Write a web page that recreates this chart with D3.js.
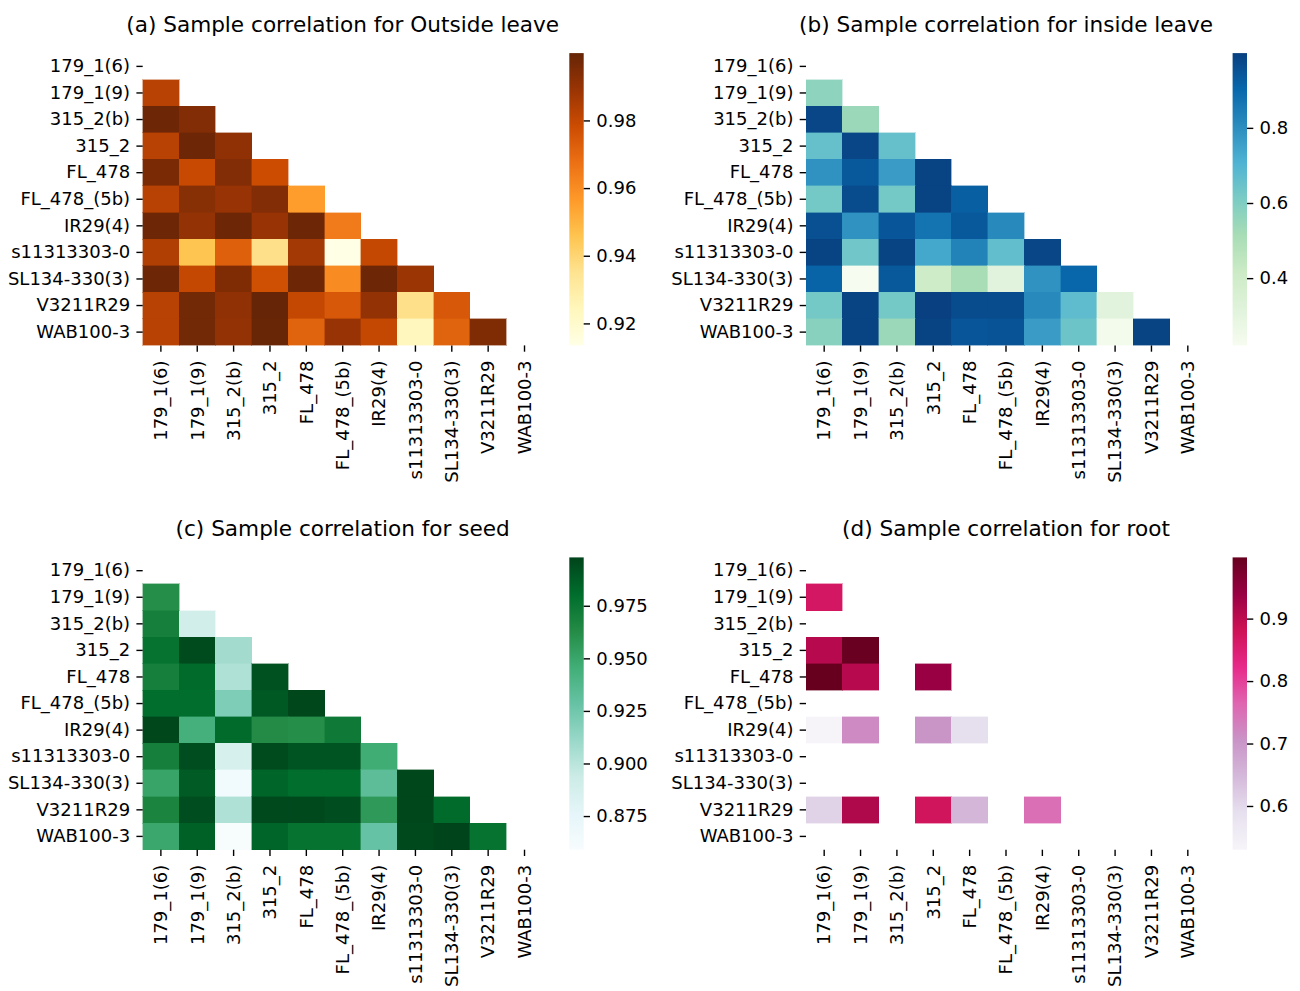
<!DOCTYPE html>
<html>
<head>
<meta charset="utf-8">
<script src="https://cdn.jsdelivr.net/npm/d3@7"></script>
<style>
  html, body { margin: 0; padding: 0; background: #ffffff; }
  svg { display: block; }
  text { font-family: "DejaVu Sans", sans-serif; fill: #000; }
</style>
</head>
<body>
<svg id="chart" width="1300" height="991"></svg>
<script>
// Sample names shared by all four correlation matrices
const samples = ["179_1(6)", "179_1(9)", "315_2(b)", "315_2", "FL_478", "FL_478_(5b)",
                 "IR29(4)", "s11313303-0", "SL134-330(3)", "V3211R29", "WAB100-3"];

// Lower-triangle correlations (row i holds columns 0..i-1); null = no value
const outsideLeave = [
  [],
  [0.9826],
  [0.9982, 0.9939],
  [0.9826, 0.9982, 0.9913],
  [0.9956, 0.9792, 0.9939, 0.9783],
  [0.9826, 0.9930, 0.9895, 0.9939, 0.9558],
  [0.9982, 0.9904, 0.9982, 0.9895, 0.9982, 0.9645],
  [0.9843, 0.9455, 0.9723, 0.9360, 0.9869, 0.9135, 0.9800],
  [0.9982, 0.9800, 0.9947, 0.9774, 0.9982, 0.9602, 0.9982, 0.9887],
  [0.9826, 0.9973, 0.9913, 0.9999, 0.9800, 0.9748, 0.9904, 0.9360, 0.9748],
  [0.9826, 0.9973, 0.9904, 0.9995, 0.9714, 0.9895, 0.9800, 0.9239, 0.9714, 0.9947]
];

const insideLeave = [
  [],
  [0.572],
  [0.984, 0.540],
  [0.657, 0.984, 0.657],
  [0.790, 0.938, 0.766, 0.992],
  [0.626, 0.969, 0.626, 0.992, 0.922],
  [0.961, 0.790, 0.945, 0.868, 0.938, 0.813],
  [0.992, 0.634, 0.992, 0.735, 0.829, 0.665, 0.984],
  [0.914, 0.221, 0.938, 0.408, 0.513, 0.314, 0.790, 0.903],
  [0.626, 0.992, 0.626, 0.999, 0.969, 0.969, 0.813, 0.673, 0.314],
  [0.579, 0.992, 0.540, 0.992, 0.945, 0.953, 0.766, 0.642, 0.237, 0.992]
];

const seed = [
  [],
  [0.9619],
  [0.9702, 0.8896],
  [0.9772, 0.9952, 0.9077],
  [0.9702, 0.9813, 0.9035, 0.9924],
  [0.9799, 0.9799, 0.9202, 0.9897, 0.9966],
  [0.9966, 0.9438, 0.9813, 0.9633, 0.9619, 0.9730],
  [0.9702, 0.9938, 0.8868, 0.9952, 0.9911, 0.9911, 0.9466],
  [0.9507, 0.9883, 0.8646, 0.9841, 0.9799, 0.9799, 0.9327, 0.9966],
  [0.9674, 0.9938, 0.9035, 0.9959, 0.9959, 0.9938, 0.9563, 0.9966, 0.9813],
  [0.9494, 0.9855, 0.8590, 0.9841, 0.9772, 0.9772, 0.9285, 0.9959, 0.9980, 0.9772]
];

const root = [
  [],
  [0.868],
  [null, null],
  [0.906, 0.995, null],
  [0.998, 0.906, null, 0.939],
  [null, null, null, null, null],
  [0.530, 0.718, null, 0.704, 0.591, null],
  [null, null, null, null, null, null, null],
  [null, null, null, null, null, null, null, null],
  [0.610, 0.915, null, 0.873, 0.652, null, 0.751, null, null],
  [null, null, null, null, null, null, null, null, null, null]
];

// Panel titles and colour-bar tick values
const titles = [
  "(a) Sample correlation for Outside leave",
  "(b) Sample correlation for inside leave",
  "(c) Sample correlation for seed",
  "(d) Sample correlation for root"
];
const outsideTicks = [0.92, 0.94, 0.96, 0.98];
const insideTicks = [0.4, 0.6, 0.8];
const seedTicks = [0.875, 0.900, 0.925, 0.950, 0.975];
const rootTicks = [0.6, 0.7, 0.8, 0.9];

// Layout
const W = 400, H = 292.3;
const TICK = 6.3, PAD = 6.3;
const CB_OFFSET = 426.6, CB_WIDTH = 14.4;

const panels = [
  { title: titles[0], data: outsideLeave, scheme: d3.schemeYlOrBr[9], ticks: outsideTicks, fmt: ".2f", x: 142.7, y: 53.1 },
  { title: titles[1], data: insideLeave, scheme: d3.schemeGnBu[9], ticks: insideTicks, fmt: ".1f", x: 806, y: 53.1 },
  { title: titles[2], data: seed, scheme: d3.schemeBuGn[9], ticks: seedTicks, fmt: ".3f", x: 142.7, y: 557.4 },
  { title: titles[3], data: root, scheme: d3.schemePuRd[9], ticks: rootTicks, fmt: ".1f", x: 806, y: 557.4 }
];

const svg = d3.select("#chart");
svg.append("rect").attr("width", 1300).attr("height", 991).attr("fill", "#fff");
const defs = svg.append("defs");

panels.forEach((p, pi) => {
  const g = svg.append("g").attr("transform", `translate(${p.x},${p.y})`);

  const xScale = d3.scaleBand().domain(samples).range([0, W]);
  const yScale = d3.scaleBand().domain(samples).range([0, H]);

  const cells = [];
  p.data.forEach((row, i) => row.forEach((v, j) => {
    if (v !== null) cells.push({ r: samples[i], c: samples[j], v });
  }));

  const [vmin, vmax] = d3.extent(cells, d => d.v);
  // linear segments between the nine ColorBrewer stops
  const color = d3.scaleLinear()
    .domain(d3.range(9).map(k => vmin + k * (vmax - vmin) / 8))
    .range(p.scheme)
    .interpolate(d3.interpolateRgb)
    .clamp(true);

  g.append("g").selectAll("rect")
    .data(cells)
    .join("rect")
    .attr("x", d => xScale(d.c))
    .attr("y", d => yScale(d.r))
    .attr("width", xScale.bandwidth())
    .attr("height", yScale.bandwidth())
    .attr("fill", d => color(d.v))
    .attr("stroke", d => color(d.v))
    .attr("stroke-width", 0.4)
    .attr("shape-rendering", "crispEdges");

  // row labels
  const yAxis = g.append("g")
    .call(d3.axisLeft(yScale).tickSize(TICK).tickPadding(PAD));
  yAxis.select(".domain").remove();

  // column labels, rotated
  const xAxis = g.append("g")
    .attr("transform", `translate(0,${H})`)
    .call(d3.axisBottom(xScale).tickSize(TICK).tickPadding(PAD));
  xAxis.select(".domain").remove();
  xAxis.selectAll("text")
    .attr("x", 0).attr("y", 0).attr("dy", "0.35em")
    .attr("transform", `translate(0,${TICK + PAD + 2.5}) rotate(-90)`)
    .style("text-anchor", "end");

  [yAxis, xAxis].forEach(a => {
    a.attr("font-size", null).attr("font-family", null);
    a.selectAll("text").style("font-size", "18px");
    a.selectAll("line").attr("stroke", "#000").attr("stroke-width", 1.4);
  });

  // colour bar
  const gradId = `cbar-grad-${pi}`;
  const grad = defs.append("linearGradient")
    .attr("id", gradId)
    .attr("x1", 0).attr("y1", 1).attr("x2", 0).attr("y2", 0);
  p.scheme.forEach((c, k) => {
    grad.append("stop").attr("offset", k / 8).attr("stop-color", c);
  });

  const cb = g.append("g").attr("transform", `translate(${CB_OFFSET},0)`);
  cb.append("rect")
    .attr("width", CB_WIDTH).attr("height", H)
    .attr("fill", `url(#${gradId})`);

  const cbScale = d3.scaleLinear().domain([vmin, vmax]).range([H, 0]);
  const cbAxis = cb.append("g")
    .attr("transform", `translate(${CB_WIDTH},0)`)
    .call(d3.axisRight(cbScale).tickValues(p.ticks)
      .tickFormat(d3.format(p.fmt)).tickSize(TICK).tickPadding(PAD));
  cbAxis.select(".domain").remove();
  cbAxis.attr("font-size", null).attr("font-family", null);
  cbAxis.selectAll("text").style("font-size", "18px");
  cbAxis.selectAll("line").attr("stroke", "#000").attr("stroke-width", 1.4);

  // title
  g.append("text")
    .attr("x", W / 2)
    .attr("y", -21)
    .attr("text-anchor", "middle")
    .style("font-size", "21.6px")
    .text(p.title);
});
</script>
</body>
</html>
